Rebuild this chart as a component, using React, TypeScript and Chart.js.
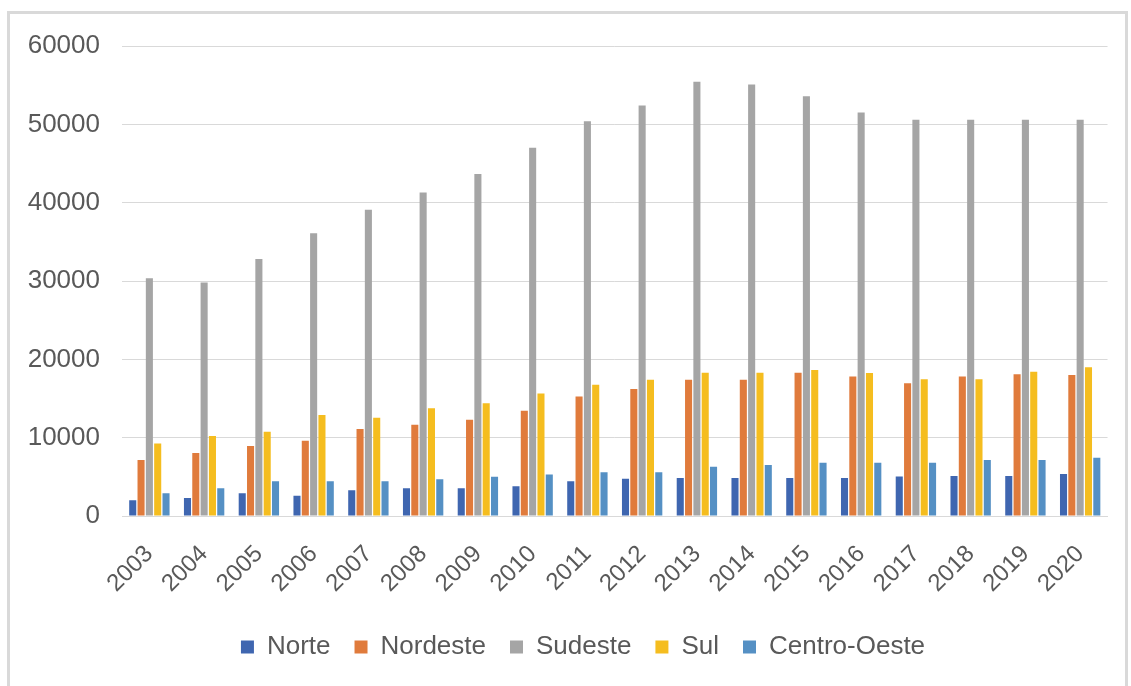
import React, { useEffect, useRef } from "react";
import { Chart, registerables } from "chart.js";

Chart.register(...registerables);

const years = ["2003","2004","2005","2006","2007","2008","2009","2010","2011","2012","2013","2014","2015","2016","2017","2018","2019","2020"];
const norte = [2000, 2300, 2900, 2600, 3300, 3550, 3550, 3800, 4450, 4750, 4850, 4850, 4850, 4850, 5050, 5100, 5100, 5350];
const nordeste = [7150, 8050, 8950, 9600, 11100, 11650, 12300, 13450, 15250, 16200, 17400, 17400, 18300, 17800, 16950, 17800, 18100, 18000];
const sudeste = [30350, 29800, 32800, 36100, 39100, 41300, 43650, 47000, 50400, 52400, 55450, 55100, 53600, 51500, 50600, 50600, 50600, 50600];
const sul = [9250, 10200, 10750, 12900, 12550, 13750, 14400, 15650, 16750, 17400, 18300, 18300, 18650, 18250, 17450, 17450, 18400, 19000];
const centroOeste = [2900, 3550, 4450, 4450, 4450, 4700, 5000, 5300, 5600, 5600, 6300, 6500, 6800, 6800, 6800, 7150, 7150, 7450];
const yTicks = [0, 10000, 20000, 30000, 40000, 50000, 60000];

const FONT = "'Liberation Sans', Arial, sans-serif";

const shiftLegend = {
  id: "shiftLegend",
  afterLayout(chart: any) {
    const lg = chart.legend;
    if (lg) {
      lg.left += 24;
      lg.right += 24;
    }
  },
};

export default function App() {
  const ref = useRef<HTMLCanvasElement | null>(null);
  useEffect(() => {
    if (!ref.current) return;
    const chart = new Chart(ref.current, {
      type: "bar",
      data: {
        labels: years,
        datasets: [
          { label: "Norte", data: norte, backgroundColor: "#3F66B0" },
          { label: "Nordeste", data: nordeste, backgroundColor: "#E07B3C" },
          { label: "Sudeste", data: sudeste, backgroundColor: "#A5A5A5" },
          { label: "Sul", data: sul, backgroundColor: "#F5BD1F" },
          { label: "Centro-Oeste", data: centroOeste, backgroundColor: "#5590C4" },
        ],
      },
      options: {
        animation: false,
        responsive: false,
        maintainAspectRatio: false,
        datasets: { bar: { categoryPercentage: 0.76, barPercentage: 0.85 } },
        layout: { padding: { top: 32, right: 17, bottom: 16, left: 0 } },
        plugins: {
          tooltip: { enabled: false },
          legend: {
            position: "bottom",
            labels: {
              font: { family: FONT, size: 26 },
              color: "#595959",
              boxWidth: 13,
              boxHeight: 13,
              padding: 24,
            },
          },
        },
        scales: {
          x: {
            grid: { display: false, drawTicks: false },
            border: { display: true, color: "#d9d9d9", width: 1 },
            ticks: {
              font: { family: FONT, size: 24 },
              color: "#595959",
              maxRotation: 45,
              minRotation: 45,
              padding: 24,
              autoSkip: false,
            },
            afterFit: (s: any) => { s.height = 94; },
          },
          y: {
            min: 0,
            max: 60000,
            afterBuildTicks: (s: any) => { s.ticks = yTicks.map((v) => ({ value: v })); },
            grid: { color: "#d9d9d9", drawTicks: true, tickLength: 22, tickColor: "rgba(0,0,0,0)", lineWidth: 1 },
            border: { display: false },
            ticks: {
              font: { family: FONT, size: 26 },
              color: "#595959",
              padding: 0,
              callback: (v: any) => String(v),
            },
            afterFit: (s: any) => { s.width = 112; },
          },
        },
      },
      plugins: [shiftLegend],
    });
    return () => chart.destroy();
  }, []);
  return (
    <div
      style={{
        position: "absolute",
        left: 7,
        top: 11,
        width: 1115,
        height: 690,
        border: "3px solid #d9d9d9",
        background: "#fff",
      }}
    >
      <canvas ref={ref} width={1115} height={672} style={{ display: "block" }} />
    </div>
  );
}
